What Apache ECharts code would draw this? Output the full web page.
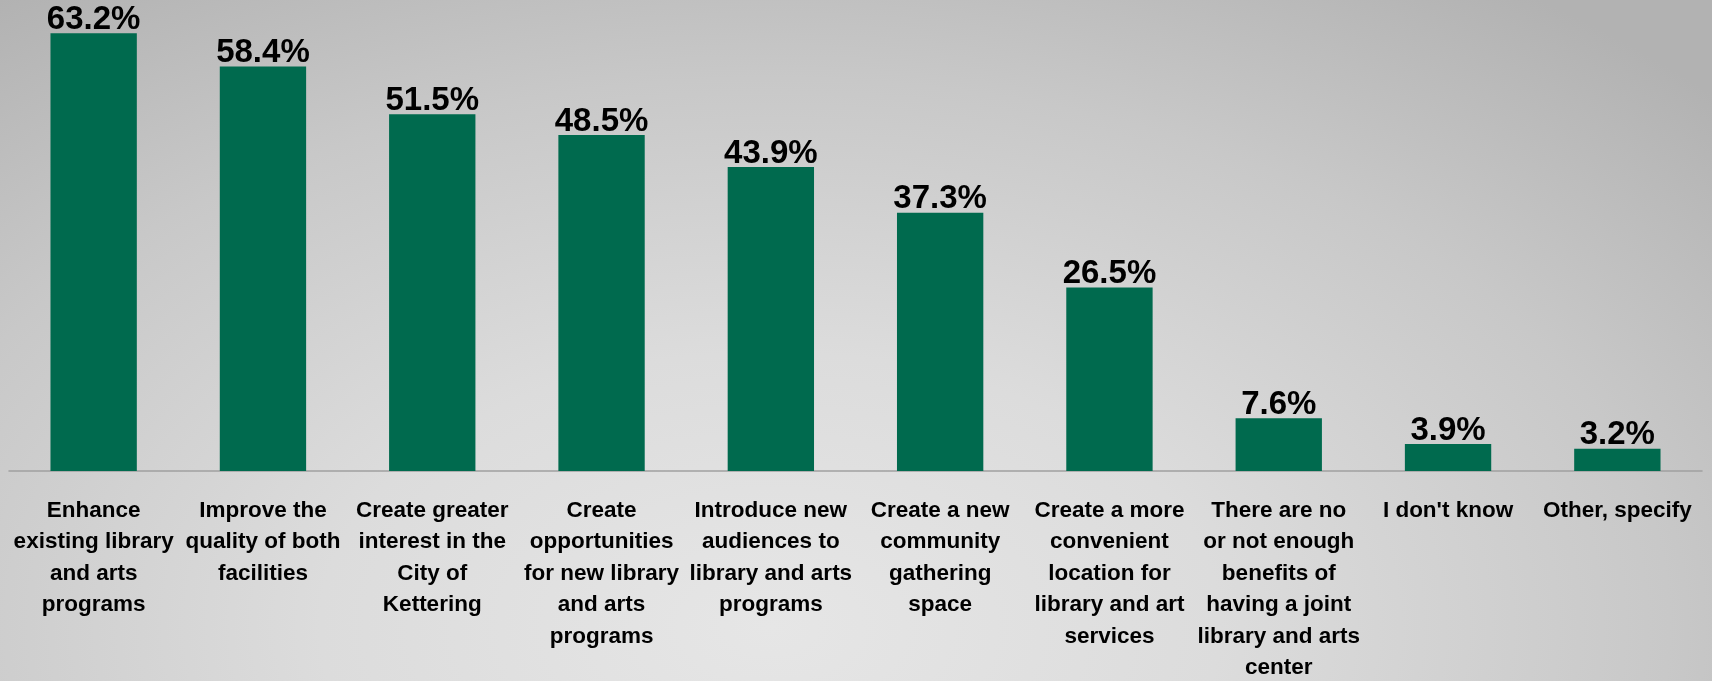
<!DOCTYPE html>
<html>
<head>
<meta charset="utf-8">
<script src="https://cdn.jsdelivr.net/npm/echarts@6/dist/echarts.min.js"></script>
<style>
html,body{margin:0;padding:0;width:1712px;height:681px;overflow:hidden;}
#chart{width:1712px;height:681px;
background: radial-gradient(ellipse 75% 115% at 45% 92%, #e6e6e6 0%, #dcdcdc 35%, #c8c8c8 70%, #b2b2b2 100%);}
</style>
</head>
<body>
<div id="chart"></div>
<script>
const categories = [
  "Enhance\nexisting library\nand arts\nprograms",
  "Improve the\nquality of both\nfacilities",
  "Create greater\ninterest in the\nCity of\nKettering",
  "Create\nopportunities\nfor new library\nand arts\nprograms",
  "Introduce new\naudiences to\nlibrary and arts\nprograms",
  "Create a new\ncommunity\ngathering\nspace",
  "Create a more\nconvenient\nlocation for\nlibrary and art\nservices",
  "There are no\nor not enough\nbenefits of\nhaving a joint\nlibrary and arts\ncenter",
  "I don't know",
  "Other, specify"
];
const values = [63.2, 58.4, 51.5, 48.5, 43.9, 37.3, 26.5, 7.6, 3.9, 3.2];

const chart = echarts.init(document.getElementById('chart'), null, {renderer: 'canvas'});
chart.setOption({
  backgroundColor: 'transparent',
  animation: false,
  grid: {left: 9, right: 10, top: 0, bottom: 210, containLabel: false, outerBoundsMode: 'none'},
  xAxis: {
    type: 'category',
    data: categories,
    axisLine: {show: true, lineStyle: {color: '#a0a0a0', width: 1.5}},
    axisTick: {show: false},
    axisLabel: {
      interval: 0,
      margin: 24,
      color: '#000',
      fontFamily: 'Liberation Sans, Arial, sans-serif',
      fontWeight: 'bold',
      fontSize: 22.5,
      lineHeight: 31.5,
      align: 'center'
    }
  },
  yAxis: {
    type: 'value',
    min: 0,
    max: 68,
    show: false,
    splitLine: {show: false}
  },
  series: [{
    type: 'bar',
    data: values,
    barCategoryGap: '49%',
    itemStyle: {color: '#006a4e'},
    label: {
      show: true,
      position: 'top',
      distance: -3,
      color: '#000',
      fontFamily: 'Liberation Sans, Arial, sans-serif',
      fontWeight: 'bold',
      fontSize: 33,
      formatter: p => p.value.toFixed(1) + '%'
    }
  }]
});
</script>
</body>
</html>
